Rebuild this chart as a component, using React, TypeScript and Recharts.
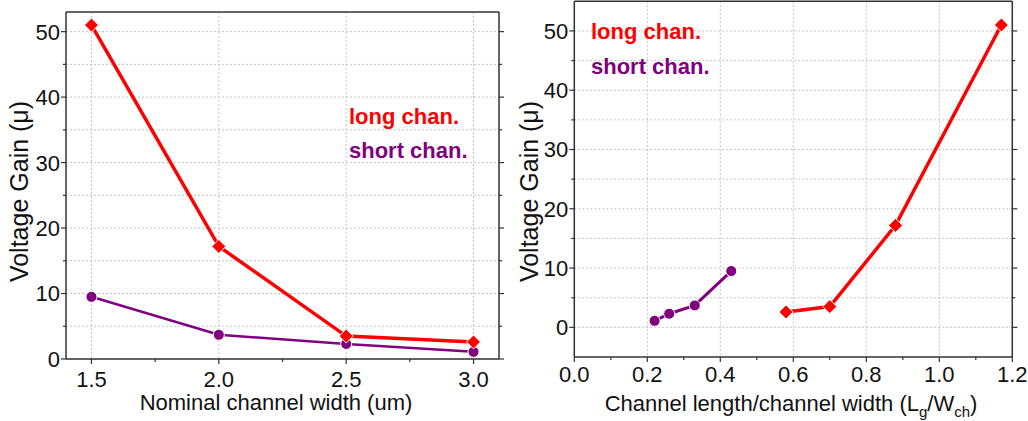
import React from 'react';
import { ComposedChart, Line, XAxis, YAxis, CartesianGrid } from 'recharts';

const FONT = '"Liberation Sans", Arial, sans-serif';
const RED = '#ff0000';
const PURPLE = '#800080';
const AXIS = '#333333';
const GRID = '#c4c4c4';

// measured devices, same order in every array
const widths = [1.5, 2.0, 2.5, 3.0];
const longGain = [51, 17.2, 3.5, 2.6];
const shortGain = [9.5, 3.7, 2.3, 1.1];
const longRatio = [1.17, 0.88, 0.7, 0.58];
const shortRatio = [0.43, 0.33, 0.26, 0.22];

// ticks
const widthMajor = [1.5, 2.0, 2.5, 3.0];
const widthMinor = [1.75, 2.25, 2.75];
const ratioMajor = [0, 0.2, 0.4, 0.6, 0.8, 1.0, 1.2];
const ratioMinor = [0.1, 0.3, 0.5, 0.7, 0.9, 1.1];
const gainMajor = [0, 10, 20, 30, 40, 50];
const gainMinor = [5, 15, 25, 35, 45];
const gainGrid = [0, 5, 10, 15, 20, 25, 30, 35, 40, 45, 50];

const zip = (xs: number[], ys: number[]) => xs.map((x, i) => ({ x, y: ys[i] }));
const longByWidth = zip(widths, longGain);
const shortByWidth = zip(widths, shortGain);
const longByRatio = zip(longRatio, longGain);
const shortByRatio = zip(shortRatio, shortGain);

const sorted = (a: number[], b: number[]) => [...a, ...b].sort((p, q) => p - q);
const isMajor = (list: number[], v: number) => list.some((m) => Math.abs(m - v) < 1e-6);

type Side = 'bottom' | 'top' | 'left' | 'right';

const makeTick = (side: Side, majors: number[], fmt?: (v: number) => string, labelGap = 27) => (props: any) => {
  const { x, y, payload } = props;
  const v = payload.value;
  const major = isMajor(majors, v);
  const len = major ? 5 : 3;
  let line;
  if (side === 'bottom') line = <line x1={x} y1={y} x2={x} y2={y + len} />;
  else if (side === 'top') line = <line x1={x} y1={y} x2={x} y2={y - len} />;
  else if (side === 'left') line = <line x1={x} y1={y} x2={x - len} y2={y} />;
  else line = <line x1={x} y1={y} x2={x + len} y2={y} />;
  return (
    <g stroke={AXIS} strokeWidth={1.2}>
      {line}
      {major && fmt && side === 'bottom' && (
        <text x={x} y={y + labelGap} textAnchor="middle" fill="#111" stroke="none" fontSize={22} fontFamily={FONT}>
          {fmt(v)}
        </text>
      )}
      {major && fmt && side === 'left' && (
        <text x={x - 6} y={y} dy="0.36em" textAnchor="end" fill="#111" stroke="none" fontSize={22} fontFamily={FONT}>
          {fmt(v)}
        </text>
      )}
    </g>
  );
};

const Diamond = (props: any) => {
  const { cx, cy } = props;
  if (cx == null || cy == null) return null;
  const r = 7;
  return (
    <polygon
      points={`${cx},${cy - r} ${cx + r},${cy} ${cx},${cy + r} ${cx - r},${cy}`}
      fill={RED}
      stroke="#ffffff"
      strokeWidth={1}
    />
  );
};

const Dot = (props: any) => {
  const { cx, cy } = props;
  if (cx == null || cy == null) return null;
  return <circle cx={cx} cy={cy} r={5.5} fill={PURPLE} stroke="#ffffff" strokeWidth={1} />;
};

const axisLine = { stroke: AXIS, strokeWidth: 1.5 };
const fixed1 = (v: number) => v.toFixed(1);
const int = (v: number) => String(Math.round(v));

// axes take 1px each, the rest of the frame offset lives in the margins
const App: React.FC = () => {
  return (
    <div style={{ position: 'absolute', left: 0, top: 0, width: 1028, height: 421, background: '#fff', overflow: 'hidden' }}>
      <div style={{ position: 'absolute', left: 0, top: 0 }}>
        <ComposedChart width={510} height={421} margin={{ top: 11, right: 10, bottom: 61, left: 65 }}>
          <CartesianGrid horizontalValues={gainGrid} verticalValues={widthMajor} stroke={GRID} strokeDasharray="2 2" />
          <XAxis
            dataKey="x" type="number" domain={[1.4, 3.1]} allowDataOverflow
            ticks={sorted(widthMajor, widthMinor)} interval={0} height={1} tickSize={0} tickMargin={0}
            axisLine={axisLine} tickLine={false} tick={makeTick('bottom', widthMajor, fixed1, 27.5)}
          />
          <XAxis
            xAxisId="top" orientation="top" type="number" domain={[1.4, 3.1]} allowDataOverflow
            ticks={sorted(widthMajor, widthMinor)} interval={0} height={1} tickSize={0} tickMargin={0}
            axisLine={axisLine} tickLine={false} tick={makeTick('top', widthMajor)}
          />
          <YAxis
            type="number" domain={[0, 53]} allowDataOverflow
            ticks={sorted(gainMajor, gainMinor)} interval={0} width={1} tickSize={0} tickMargin={0}
            axisLine={axisLine} tickLine={false} tick={makeTick('left', gainMajor, int)}
          />
          <YAxis
            yAxisId="right" orientation="right" type="number" domain={[0, 53]} allowDataOverflow
            ticks={sorted(gainMajor, gainMinor)} interval={0} width={1} tickSize={0} tickMargin={0}
            axisLine={axisLine} tickLine={false} tick={makeTick('right', gainMajor)}
          />
          <Line data={shortByWidth} dataKey="y" type="linear" stroke={PURPLE} strokeWidth={2.5} dot={<Dot />} activeDot={false} isAnimationActive={false} />
          <Line data={longByWidth} dataKey="y" type="linear" stroke={RED} strokeWidth={3.5} dot={<Diamond />} activeDot={false} isAnimationActive={false} />
        </ComposedChart>
      </div>

      <div style={{ position: 'absolute', left: 510, top: 0 }}>
        <ComposedChart width={518} height={421} margin={{ top: 0.3, right: 14.7, bottom: 63, left: 63.3 }}>
          <CartesianGrid horizontalValues={gainGrid} verticalValues={ratioMajor} stroke={GRID} strokeDasharray="2 2" />
          <XAxis
            dataKey="x" type="number" domain={[0, 1.2]} allowDataOverflow
            ticks={sorted(ratioMajor, ratioMinor)} interval={0} height={1} tickSize={0} tickMargin={0}
            axisLine={axisLine} tickLine={false} tick={makeTick('bottom', ratioMajor, fixed1, 25)}
          />
          <XAxis
            xAxisId="top" orientation="top" type="number" domain={[0, 1.2]} allowDataOverflow
            ticks={sorted(ratioMajor, ratioMinor)} interval={0} height={1} tickSize={0} tickMargin={0}
            axisLine={axisLine} tickLine={false} tick={makeTick('top', ratioMajor)}
          />
          <YAxis
            type="number" domain={[-5, 55]} allowDataOverflow
            ticks={sorted(gainMajor, gainMinor)} interval={0} width={1} tickSize={0} tickMargin={0}
            axisLine={axisLine} tickLine={false} tick={makeTick('left', gainMajor, int)}
          />
          <YAxis
            yAxisId="right" orientation="right" type="number" domain={[-5, 55]} allowDataOverflow
            ticks={sorted(gainMajor, gainMinor)} interval={0} width={1} tickSize={0} tickMargin={0}
            axisLine={axisLine} tickLine={false} tick={makeTick('right', gainMajor)}
          />
          <Line data={shortByRatio} dataKey="y" type="linear" stroke={PURPLE} strokeWidth={3} dot={<Dot />} activeDot={false} isAnimationActive={false} />
          <Line data={longByRatio} dataKey="y" type="linear" stroke={RED} strokeWidth={3.5} dot={<Diamond />} activeDot={false} isAnimationActive={false} />
        </ComposedChart>
      </div>

      <svg width={1028} height={421} style={{ position: 'absolute', left: 0, top: 0, pointerEvents: 'none' }} fontFamily={FONT}>
        <text x={349} y={123.5} fill={RED} fontSize={22} fontWeight="bold">long chan.</text>
        <text x={349} y={158} fill={PURPLE} fontSize={22} fontWeight="bold">short chan.</text>
        <text x={591} y={39} fill={RED} fontSize={22} fontWeight="bold">long chan.</text>
        <text x={591} y={73.5} fill={PURPLE} fontSize={22} fontWeight="bold">short chan.</text>

        <text transform="translate(28.3,191.5) rotate(-90)" textAnchor="middle" fontSize={25} fill="#111">Voltage Gain (μ)</text>
        <text transform="translate(537.7,191.5) rotate(-90)" textAnchor="middle" fontSize={25} fill="#111">Voltage Gain (μ)</text>

        <text x={276} y={410} textAnchor="middle" fontSize={22} fill="#111">Nominal channel width (um)</text>
        <text x={791} y={410.5} textAnchor="middle" fontSize={22} fill="#111">
          Channel length/channel width (L<tspan fontSize={15} dy={6}>g</tspan>
          <tspan fontSize={22} dy={-6}>/W</tspan>
          <tspan fontSize={15} dy={6}>ch</tspan>
          <tspan fontSize={22} dy={-6}>)</tspan>
        </text>
      </svg>
    </div>
  );
};

export default App;
